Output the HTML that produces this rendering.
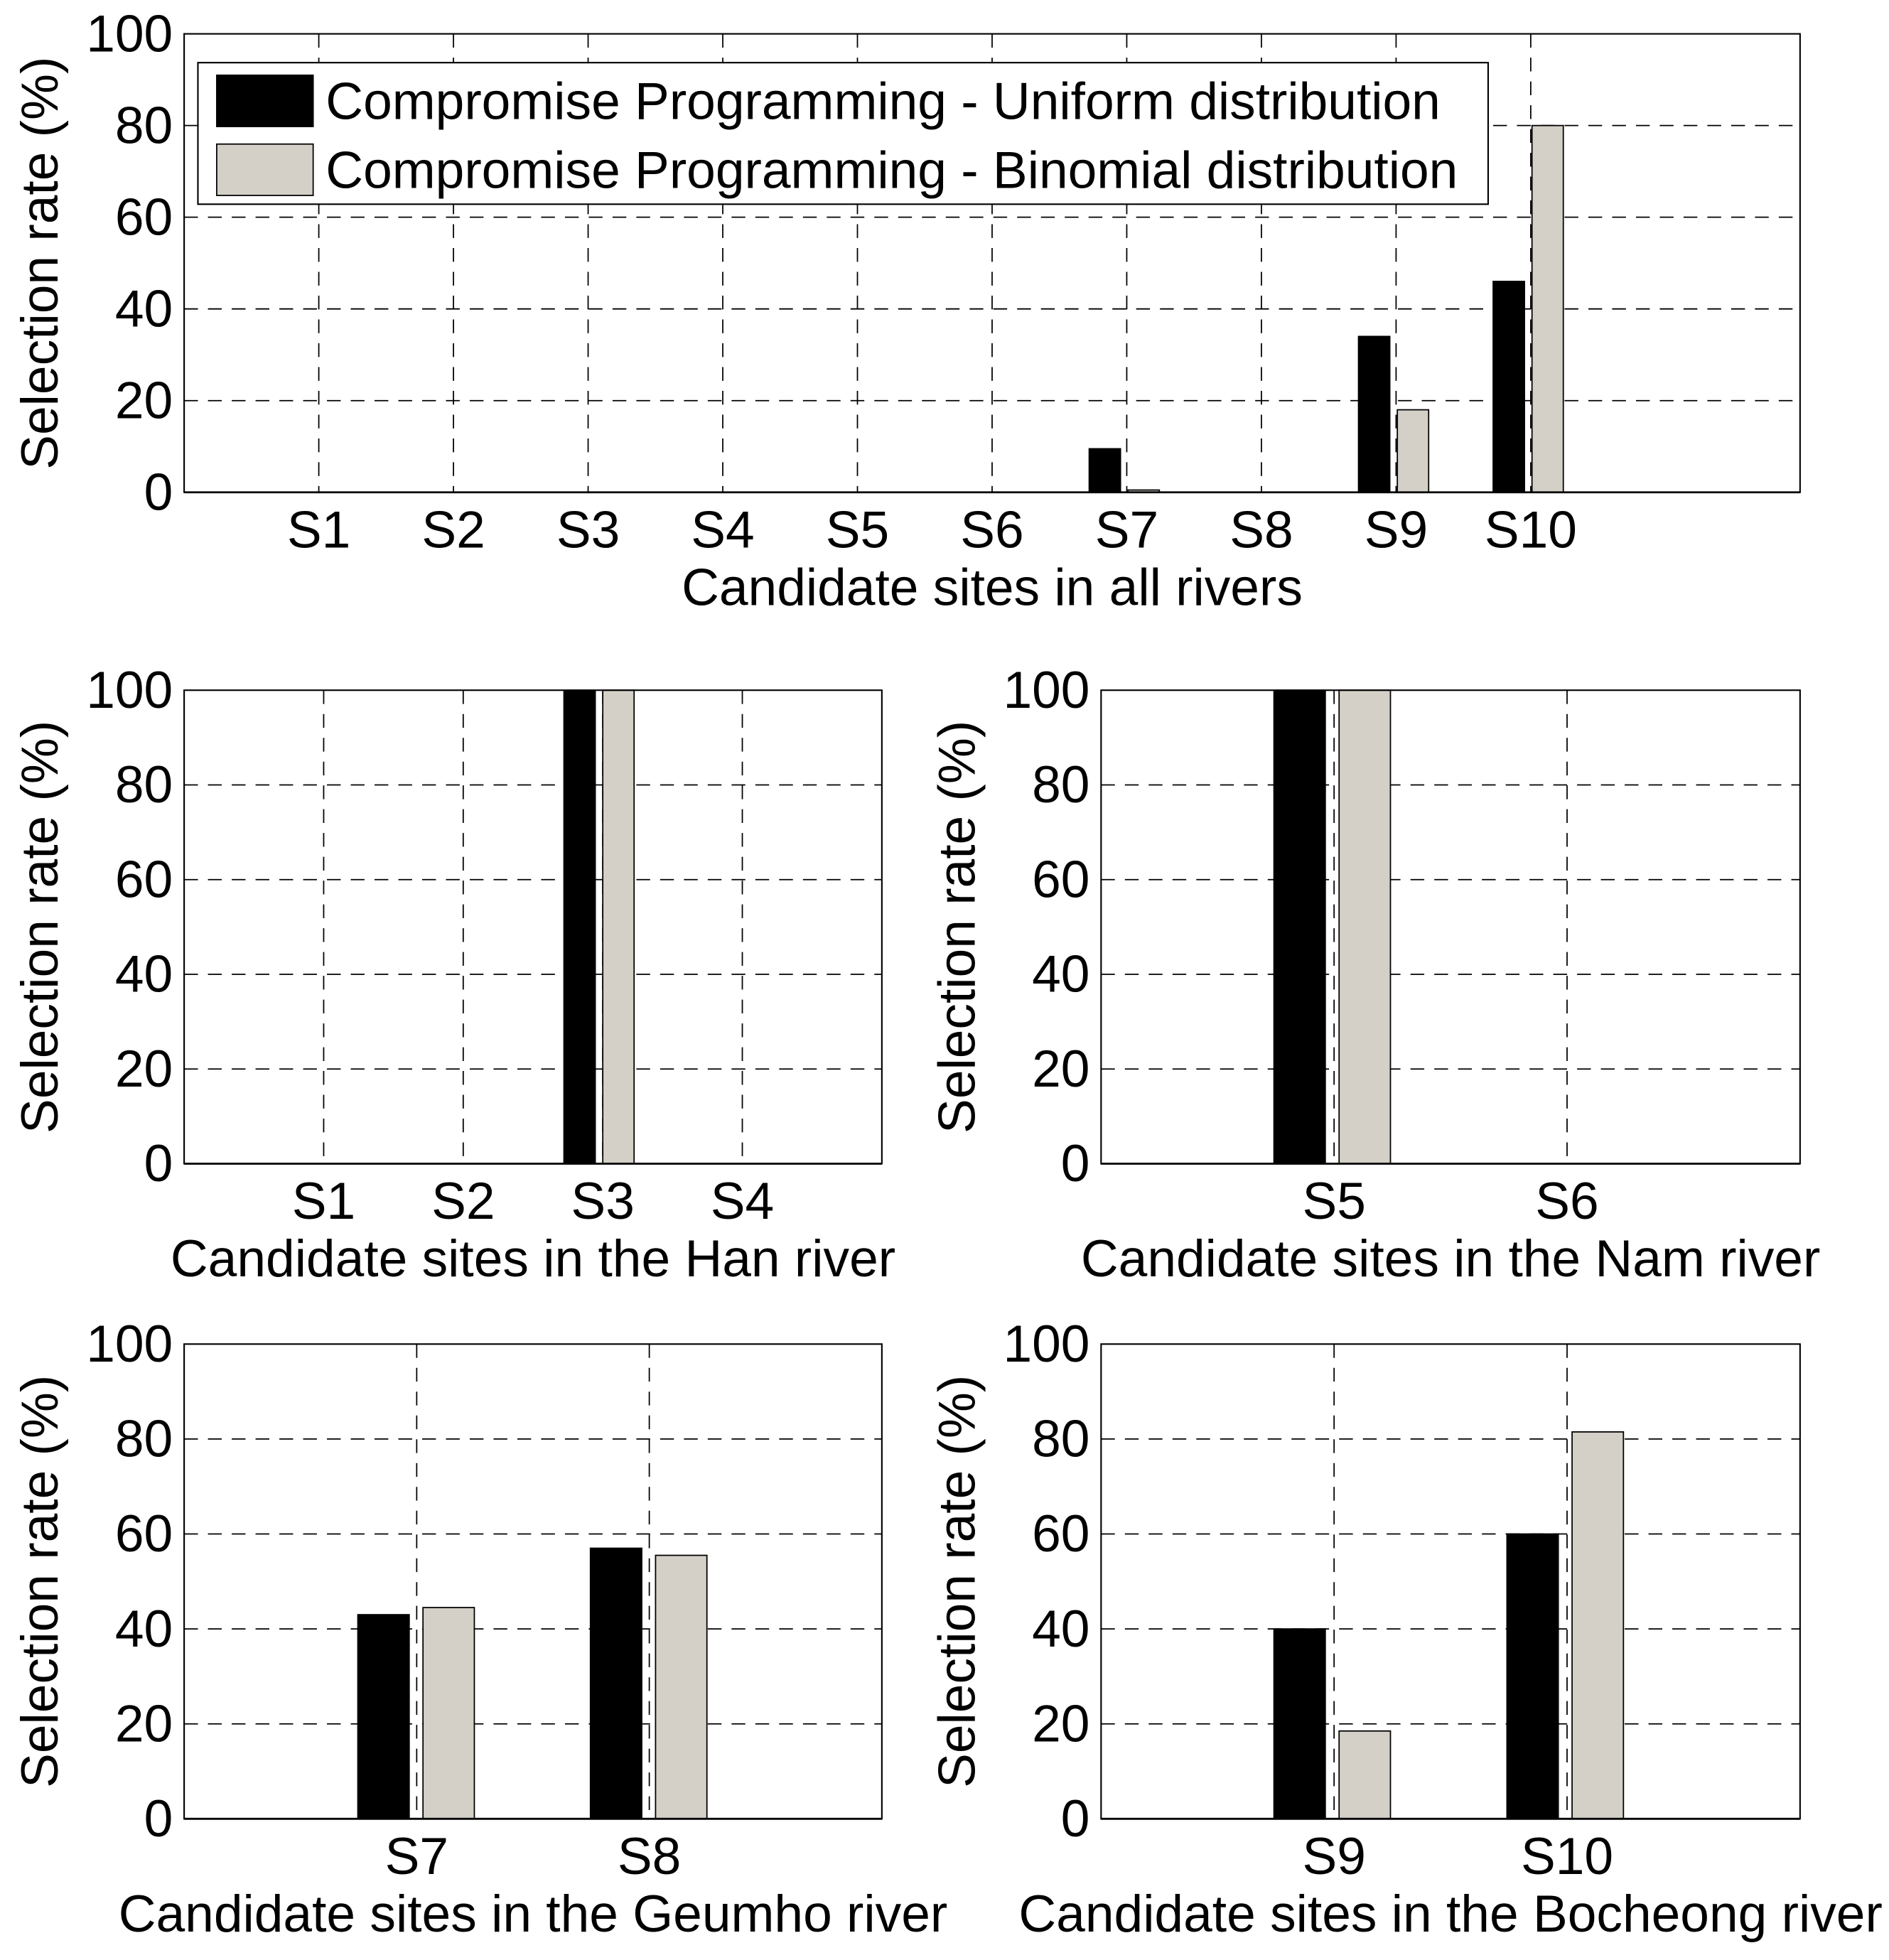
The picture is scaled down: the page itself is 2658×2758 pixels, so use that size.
<!DOCTYPE html>
<html><head><meta charset="utf-8"><style>
html,body{margin:0;padding:0;background:#fff}
svg{display:block}
text{font-family:"Liberation Sans",Arial,sans-serif;fill:#000}
</style></head><body>
<svg id="fig" width="2658" height="2758" viewBox="0 0 1508 1564.7" xmlns="http://www.w3.org/2000/svg"></svg>
<script>
const topCats=["S1","S2","S3","S4","S5","S6","S7","S8","S9","S10"];
const topUniform=[0,0,0,0,0,0,9.5,0,34,46];
const topBinomial=[0,0,0,0,0,0,0.5,0,18,80];
const hanCats=["S1","S2","S3","S4"];
const hanUniform=[0,0,100,0];
const hanBinomial=[0,0,100,0];
const namCats=["S5","S6"];
const namUniform=[100,0];
const namBinomial=[100,0];
const geumhoCats=["S7","S8"];
const geumhoUniform=[43,57];
const geumhoBinomial=[44.5,55.5];
const bocheongCats=["S9","S10"];
const bocheongUniform=[40,60];
const bocheongBinomial=[18.5,81.5];
const yTicks=[0,20,40,60,80,100];
const legendLabels=["Compromise Programming - Uniform distribution","Compromise Programming - Binomial distribution"];

const NS="http://www.w3.org/2000/svg";
const svg=document.getElementById('fig');
const FS=41.5;
function mk(tag,attrs,parent){const e=document.createElementNS(NS,tag);for(const k in attrs)e.setAttribute(k,attrs[k]);(parent||svg).appendChild(e);return e;}

function panel(name,box,cats,xmax,uni,bin,xlabel,barW,gapL,gapR){
  const g=mk('g',{});
  
  
  const {l,r,t,b}=box;
  const xs=v=>l+(r-l)*v/xmax;
  const ys=v=>b-(b-t)*v/100;
  yTicks.forEach(v=>{
    if(v>0&&v<100){const ln=mk('line',{x1:l,x2:r,y1:ys(v),y2:ys(v),stroke:'#000','stroke-width':1,'stroke-dasharray':'11,8'},g);
    
    }
  });
  cats.forEach((c,i)=>{
    const ln=mk('line',{x1:xs(i+1),x2:xs(i+1),y1:t,y2:b,stroke:'#000','stroke-width':1,'stroke-dasharray':'11,8'},g);
    
    
  });
  cats.forEach((c,i)=>{
    const cx=xs(i+1);
    if(uni[i]>0){const rc=mk('rect',{x:cx-gapL-barW,y:ys(uni[i]),width:barW,height:b-ys(uni[i]),fill:'#000',stroke:'#000','stroke-width':1},g);
      
      }
    if(bin[i]>0){const rc=mk('rect',{x:cx+gapR,y:ys(bin[i]),width:barW,height:b-ys(bin[i]),fill:'#d4d0c8',stroke:'#000','stroke-width':1},g);
      
      }
    const tx=mk('text',{x:cx,y:b+44,'font-size':FS,'text-anchor':'middle'},g);tx.textContent=c;
    
    
  });
  mk('rect',{x:l,y:t,width:r-l,height:b-t,fill:'none',stroke:'#000','stroke-width':1.2},g);
  mk('line',{x1:l,x2:r,y1:b,y2:b,stroke:'#000','stroke-width':1.6},g);
  yTicks.forEach(v=>{
    const tx=mk('text',{x:l-9,y:ys(v)+14,'font-size':FS,'text-anchor':'end'},g);tx.textContent=v;
    
    
  });
  const yt=mk('text',{x:0,y:0,'font-size':FS,'text-anchor':'middle',transform:`translate(${l-101},${(t+b)/2}) rotate(-90)`},g);
  yt.textContent='Selection rate (%)';
  
  
  const xt=mk('text',{x:(l+r)/2,y:b+90,'font-size':FS,'text-anchor':'middle'},g);
  xt.textContent=xlabel;
  
  
  return g;
}
panel('chart-all-rivers',{l:147,r:1437,t:27,b:393},topCats,12,topUniform,topBinomial,'Candidate sites in all rivers',25,5,1);
panel('chart-han-river',{l:147,r:704,t:551,b:929},hanCats,5,hanUniform,hanBinomial,'Candidate sites in the Han river',25,6,0);
panel('chart-nam-river',{l:879,r:1437,t:551,b:929},namCats,3,namUniform,namBinomial,'Candidate sites in the Nam river',41,7,4);
panel('chart-geumho-river',{l:147,r:704,t:1073,b:1452},geumhoCats,3,geumhoUniform,geumhoBinomial,'Candidate sites in the Geumho river',41,6,5);
panel('chart-bocheong-river',{l:879,r:1437,t:1073,b:1452},bocheongCats,3,bocheongUniform,bocheongBinomial,'Candidate sites in the Bocheong river',41,7,4);
const lg=mk('g',{});


mk('rect',{x:158,y:50,width:1030,height:113,fill:'#fff',stroke:'#000','stroke-width':1.2},lg);
[['#000',60],['#d4d0c8',115]].forEach((s,i)=>{
  const sw=mk('rect',{x:173,y:s[1],width:77,height:41,fill:s[0],stroke:'#000','stroke-width':1},lg);
  
  
  const tx=mk('text',{x:260,y:s[1]+35,'font-size':FS},lg);tx.textContent=legendLabels[i];
  
  
});
</script>
</body></html>
